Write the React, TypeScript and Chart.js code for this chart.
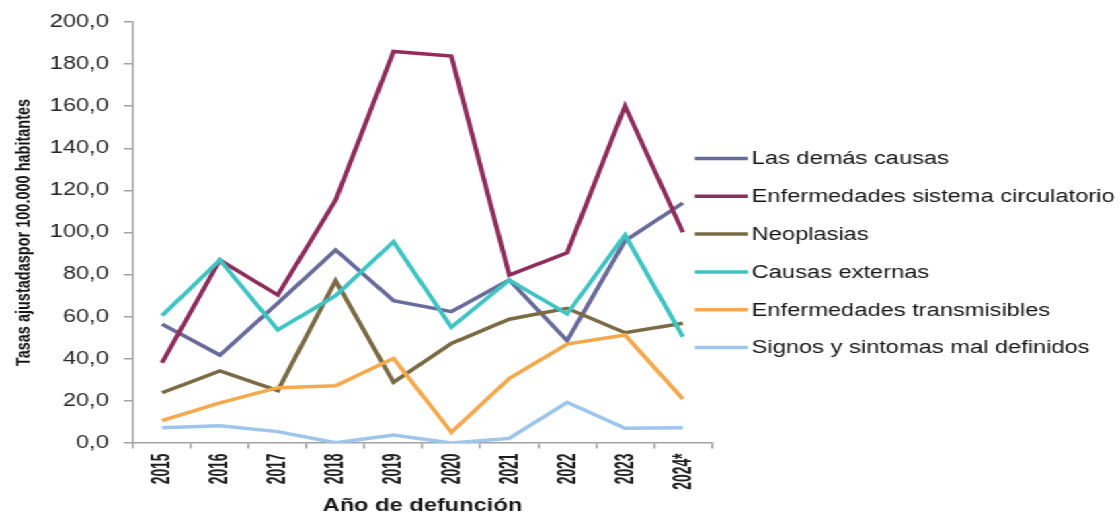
import React, { useEffect, useRef } from 'react';
import { Chart, registerables } from 'chart.js';

Chart.register(...registerables);

// ---- Data ----
const years = ['2015', '2016', '2017', '2018', '2019', '2020', '2021', '2022', '2023', '2024*'];

const lasDemasCausas = [56.5, 41.8, 66.5, 91.7, 67.6, 62.4, 77.4, 48.6, 96.0, 114.0];
const sistemaCirculatorio = [38.1, 86.9, 70.3, 115.4, 186.0, 183.8, 79.8, 90.4, 160.1, 100.1];
const neoplasias = [23.9, 34.2, 24.9, 77.1, 28.8, 47.3, 58.8, 64.0, 52.4, 56.9];
const causasExternas = [60.5, 86.9, 53.7, 70.0, 95.6, 55.0, 77.4, 61.3, 98.8, 50.5];
const transmisibles = [10.6, 19.1, 26.3, 27.2, 40.2, 5.1, 30.7, 47.0, 51.3, 20.9];
const signosSintomas = [7.3, 8.2, 5.4, 0.1, 3.8, 0.0, 2.2, 19.3, 7.0, 7.3];

const seriesNames = [
  'Las demás causas',
  'Enfermedades sistema circulatorio',
  'Neoplasias',
  'Causas externas',
  'Enfermedades transmisibles',
  'Signos y sintomas mal definidos',
];
const seriesValues = [
  lasDemasCausas,
  sistemaCirculatorio,
  neoplasias,
  causasExternas,
  transmisibles,
  signosSintomas,
];
const seriesColors = ['#6B6B9B', '#8E2C5C', '#7A6B45', '#3EC4C2', '#F5A84C', '#9EC5EC'];

const yMin = 0;
const yMax = 200;
const yStep = 20;

const yTitle = 'Tasas ajustadaspor 100.000 habitantes';
const xTitle = 'Año de defunción';

// ---- Layout / style ----
const FONT = "'Liberation Sans', Arial, sans-serif";
const BASE_W = 833;
const H = 518;
const STRETCH = 1120 / BASE_W;
const AXIS_COLOR = '#A3A3A3';

const condensedXLabels = {
  id: 'condensedXLabels',
  afterDraw(chart: any, _args: any, o: any) {
    const xs = chart.scales.x;
    const ctx = chart.ctx;
    ctx.save();
    ctx.fillStyle = o.color;
    ctx.font = `${o.weight} ${o.size}px ${o.family}`;
    ctx.textAlign = 'right';
    ctx.textBaseline = 'middle';
    (chart.data.labels as string[]).forEach((lab, i) => {
      const x = xs.getPixelForTick(i);
      ctx.save();
      ctx.translate(x, chart.chartArea.bottom + o.gap);
      ctx.rotate(-Math.PI / 2);
      ctx.scale(o.condense, 1);
      ctx.fillText(lab, 0, 0);
      ctx.restore();
    });
    ctx.restore();
  },
};

const sideLegend = {
  id: 'sideLegend',
  afterDraw(chart: any, _args: any, o: any) {
    const ctx = chart.ctx;
    const ca = chart.chartArea;
    ctx.save();
    ctx.font = `${o.size}px ${o.family}`;
    ctx.textBaseline = 'middle';
    ctx.textAlign = 'left';
    chart.data.datasets.forEach((ds: any, i: number) => {
      const y = ca.top + o.top + i * o.step;
      const x = ca.right + o.dx;
      ctx.strokeStyle = ds.borderColor;
      ctx.lineWidth = o.lineWidth;
      ctx.lineCap = 'butt';
      ctx.beginPath();
      ctx.moveTo(x, y);
      ctx.lineTo(x + o.lineLen, y);
      ctx.stroke();
      ctx.fillStyle = o.color;
      ctx.fillText(ds.label, x + o.lineLen + o.gap, y + 1);
    });
    ctx.restore();
  },
};

export default function App() {
  const ref = useRef<HTMLCanvasElement | null>(null);

  useEffect(() => {
    if (!ref.current) return;
    const chart = new Chart(ref.current, {
      type: 'line',
      data: {
        labels: years,
        datasets: seriesNames.map((name, i) => ({
          label: name,
          data: seriesValues[i],
          borderColor: seriesColors[i],
          backgroundColor: seriesColors[i],
          borderWidth: 3.5,
          pointRadius: 0,
          tension: 0,
          fill: false,
          order: -i,
        })),
      },
      plugins: [condensedXLabels, sideLegend],
      options: {
        responsive: false,
        animation: false,
        devicePixelRatio: 1,
        layout: { padding: { left: 0, right: BASE_W - 529.4, top: 22, bottom: 0 } },
        plugins: {
          legend: { display: false },
          tooltip: { enabled: false },
          condensedXLabels: {
            color: '#1f1f1f',
            size: 21,
            weight: 'bold',
            family: FONT,
            gap: 10.5,
            condense: 0.66,
          },
          sideLegend: {
            size: 17.6,
            family: FONT,
            color: '#151515',
            top: 136.5,
            step: 37.8,
            dx: -12.7,
            lineLen: 39.4,
            gap: 3,
            lineWidth: 3.5,
          },
        } as any,
        scales: {
          x: {
            type: 'category',
            offset: true,
            afterFit: (s: any) => {
              s.height = 75;
            },
            grid: {
              offset: true,
              drawOnChartArea: false,
              drawTicks: true,
              tickLength: 5.5,
              color: AXIS_COLOR,
              lineWidth: 1.5,
            },
            border: { display: true, color: AXIS_COLOR, width: 1.5 },
            ticks: { display: false },
            title: {
              display: true,
              text: xTitle,
              color: '#1a1a1a',
              font: { family: FONT, size: 17.6, weight: 'bold' },
              padding: { top: 0, bottom: 1 },
            },
          },
          y: {
            type: 'linear',
            min: yMin,
            max: yMax,
            afterFit: (s: any) => {
              s.width = 99;
            },
            grid: {
              drawOnChartArea: false,
              drawTicks: true,
              tickLength: 7,
              color: AXIS_COLOR,
              lineWidth: 1.5,
            },
            border: { display: true, color: AXIS_COLOR, width: 1.5 },
            ticks: {
              stepSize: yStep,
              padding: 11,
              color: '#262626',
              font: { family: FONT, size: 17.6 },
              callback: (v: any) => Number(v).toFixed(1).replace('.', ','),
            },
            title: {
              display: true,
              text: yTitle,
              color: '#151515',
              font: { family: FONT, size: 14.5, weight: 'bold' },
              padding: { top: 9.2, bottom: 0 },
            },
          },
        },
      } as any,
    });
    return () => chart.destroy();
  }, []);

  return (
    <div
      style={{
        position: 'fixed',
        left: 0,
        top: 0,
        width: BASE_W,
        height: H,
        transform: `scaleX(${STRETCH})`,
        transformOrigin: '0 0',
        background: '#ffffff',
      }}
    >
      <canvas ref={ref} width={BASE_W} height={H} style={{ display: 'block' }} />
    </div>
  );
}
